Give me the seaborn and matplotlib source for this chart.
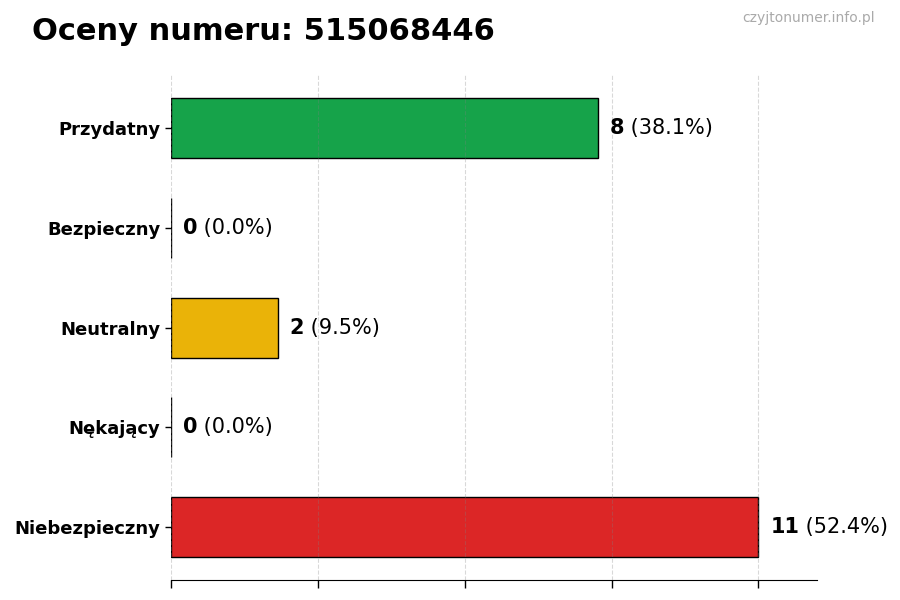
import numpy as np
import pandas as pd
import matplotlib
matplotlib.use("Agg")
import matplotlib.pyplot as plt
import seaborn as sns

# data
categories = ["Przydatny", "Bezpieczny", "Neutralny", "Nękający", "Niebezpieczny"]
counts = [8, 0, 2, 0, 11]
colors = ["#16a34a", "#9ca3af", "#eab308", "#6b7280", "#dc2626"]
title = "Oceny numeru: 515068446"
watermark = "czyjtonumer.info.pl"

sns.set_style("white")
plt.rcParams["font.family"] = ["DejaVu Sans"]
plt.rcParams["text.color"] = "black"
plt.rcParams["ytick.color"] = "black"
plt.rcParams["xtick.color"] = "black"

df = pd.DataFrame({"kategoria": categories, "liczba": counts})
total = sum(counts)
vmax = max(counts)

fig = plt.figure(figsize=(9, 6), dpi=100)
ax = fig.add_axes([0.19, 0.033, 0.718, 0.842])

sns.barplot(data=df, y="kategoria", x="liczba", hue="kategoria",
            palette=colors, order=categories, hue_order=categories,
            orient="h", width=0.6, edgecolor="black", linewidth=1,
            saturation=1, legend=False, ax=ax)

# value labels: bold count + normal percentage
for i, v in enumerate(counts):
    pct = 100 * v / total if total else 0
    t = ax.text(v + vmax * 0.02, i, str(v), fontsize=15, fontweight="bold",
                va="center", ha="left", color="black")
    ax.annotate(f" ({pct:.1f}%)", xy=(1, 0), xycoords=t,
                xytext=(0, 0), textcoords="offset points",
                fontsize=15, va="bottom", ha="left", color="black")

ax.set_xlim(0, vmax * 1.1)
ax.set_ylim(len(categories) - 1 + 0.53, -0.53)
ax.set_xticks(np.linspace(0, vmax, 5))
ax.set_xticklabels([])
ax.tick_params(axis="x", length=6, width=1, color="black", bottom=True)
ax.tick_params(axis="y", length=4, width=1, color="black", left=True)
ax.set_xlabel("")
ax.set_ylabel("")
for lbl in ax.get_yticklabels():
    lbl.set_fontweight("bold")
    lbl.set_fontsize(13)
    lbl.set_color("black")

ax.set_axisbelow(False)
ax.grid(axis="x", linestyle="--", color="gray", alpha=0.3, linewidth=0.8)
for side in ["top", "right", "left"]:
    ax.spines[side].set_visible(False)
ax.spines["bottom"].set_color("black")

fig.text(0.035, 0.948, title, fontsize=22, fontweight="bold", va="center",
         ha="left", color="black")
fig.text(0.972, 0.97, watermark, fontsize=10, color="#aaaaaa", va="center", ha="right")

fig.savefig("out.png", dpi=100)
